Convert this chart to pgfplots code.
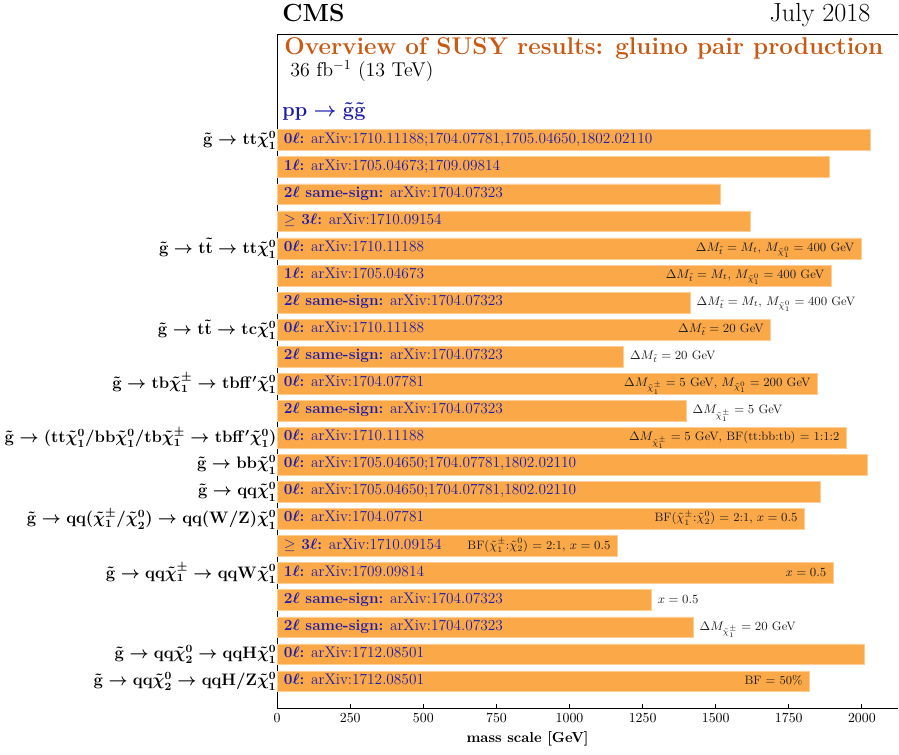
\documentclass[border=0pt]{standalone}
\usepackage{amsmath,amssymb}
\usepackage{pgfplots}
\pgfplotsset{compat=1.18}
\usepackage{pgfplotstable}
\definecolor{barorange}{RGB}{251,168,72}
\definecolor{baredge}{RGB}{253,205,150}
\definecolor{labblue}{RGB}{28,28,170}
\definecolor{titleorange}{RGB}{200,90,20}
\definecolor{anntext}{RGB}{30,30,30}
\pgfplotstableread{
y x
21 2030
20 1888
19 1517
18 1619
17 1997
16 1894
15 1412
14 1687
13 1184
12 1847
11 1398
10 1946
9 2020
8 1857
7 1803
6 1163
5 1901
4 1279
3 1422
2 2007
1 1820
}\bars
\newcommand{\bl}[3]{\node[anchor=mid west,inner sep=0,text=labblue,font=\fontsize{11.1}{13}\selectfont] at (axis cs:22,#1) {{\bfseries\boldmath #2} #3};}
\newcommand{\ain}[3]{\node[anchor=mid east,inner sep=0,text=anntext,font=\fontsize{8.8}{10}\selectfont] at (axis cs:#1,#2) {#3};}
\newcommand{\aout}[3]{\node[anchor=mid west,inner sep=0,text=anntext,font=\fontsize{8.8}{10}\selectfont] at (axis cs:#1,#2) {#3};}
\begin{document}
\begin{tikzpicture}
\begin{axis}[
  scale only axis, width=449pt, height=487pt,
  xmin=0, xmax=2125, ymin=0, ymax=24.9,
  axis lines=left, axis line style={-, black, line width=0.8pt},
  xtick={0,250,...,2000},
  /pgf/number format/1000 sep={},
  xticklabel style={font=\fontsize{10.4}{12}\selectfont},
  tick align=inside,
  major tick length=3pt,
  x tick style={black, line width=0.6pt},
  ytick={21,17,14,12,10,9,8,7,5,2,1},
  yticklabels={
    {$\tilde{\mathbf{g}}\rightarrow\mathbf{tt}\tilde{\chi}^0_1$},
    {$\tilde{\mathbf{g}}\rightarrow\mathbf{t}\tilde{\mathbf{t}}\rightarrow\mathbf{tt}\tilde{\chi}^0_1$},
    {$\tilde{\mathbf{g}}\rightarrow\mathbf{t}\tilde{\mathbf{t}}\rightarrow\mathbf{tc}\tilde{\chi}^0_1$},
    {$\tilde{\mathbf{g}}\rightarrow\mathbf{tb}\tilde{\chi}^{\pm}_1\rightarrow\mathbf{tbff'}\tilde{\chi}^0_1$},
    {$\tilde{\mathbf{g}}\rightarrow(\mathbf{tt}\tilde{\chi}^0_1/\mathbf{bb}\tilde{\chi}^0_1/\mathbf{tb}\tilde{\chi}^{\pm}_1\rightarrow\mathbf{tbff'}\tilde{\chi}^0_1)$},
    {$\tilde{\mathbf{g}}\rightarrow\mathbf{bb}\tilde{\chi}^0_1$},
    {$\tilde{\mathbf{g}}\rightarrow\mathbf{qq}\tilde{\chi}^0_1$},
    {$\tilde{\mathbf{g}}\rightarrow\mathbf{qq}(\tilde{\chi}^{\pm}_1/\tilde{\chi}^0_2)\rightarrow\mathbf{qq(W/Z)}\tilde{\chi}^0_1$},
    {$\tilde{\mathbf{g}}\rightarrow\mathbf{qq}\tilde{\chi}^{\pm}_1\rightarrow\mathbf{qqW}\tilde{\chi}^0_1$},
    {$\tilde{\mathbf{g}}\rightarrow\mathbf{qq}\tilde{\chi}^0_2\rightarrow\mathbf{qqH}\tilde{\chi}^0_1$},
    {$\tilde{\mathbf{g}}\rightarrow\mathbf{qq}\tilde{\chi}^0_2\rightarrow\mathbf{qqH/Z}\tilde{\chi}^0_1$}
  },
  y tick style={draw=none},
  yticklabel style={font=\fontsize{11.7}{13}\selectfont\boldmath, xshift=6pt},
  xlabel={\textbf{mass scale [GeV]}},
  xlabel style={at={(ticklabel cs:0.403)}, anchor=north, font=\fontsize{10.5}{12}\selectfont},
  xbar, bar width=0.77,
  clip=false,
]
\addplot[fill=barorange, draw=baredge, line width=0.4pt] table[x=x,y=y] {\bars};
\draw[black, line width=0.8pt] (rel axis cs:0,1) -- (rel axis cs:1,1);
% bounding box helpers
\node[inner sep=0,minimum size=0] at (axis cs:0,24.9) [yshift=25pt] {};
\node[inner sep=0,minimum size=0] at (axis cs:0,0) [yshift=-33pt] {};
\node[inner sep=0,minimum size=0] at (axis cs:0,0) [xshift=-198pt] {};
% titles
\node[anchor=base west,inner sep=0,font=\fontsize{17.9}{20}\selectfont\bfseries] at (axis cs:17,24.9) [yshift=9.4pt] {CMS};
\node[anchor=base east,inner sep=0,font=\fontsize{18.9}{21}\selectfont] at (axis cs:2030,24.9) [yshift=9.4pt] {July 2018};
\node[anchor=base west,inner sep=0,font=\fontsize{17.5}{20}\selectfont\bfseries,text=titleorange] at (axis cs:24,24.15) {Overview of SUSY results: gluino pair production};
\node[anchor=base west,inner sep=0,font=\Large] at (axis cs:44,23.35) {36 fb$^{-1}$ (13 TeV)};
\node[anchor=base west,inner sep=0,font=\fontsize{15}{17}\selectfont\boldmath,text=labblue] at (axis cs:17,21.87) {$\mathbf{pp}\rightarrow\tilde{\mathbf{g}}\tilde{\mathbf{g}}$};
% bar labels
\bl{21}{0$\ell$:}{arXiv:1710.11188;1704.07781,1705.04650,1802.02110}
\bl{20}{1$\ell$:}{arXiv:1705.04673;1709.09814}
\bl{19}{2$\ell$ same-sign:}{arXiv:1704.07323}
\bl{18}{{\unboldmath$\geq$} 3$\ell$:}{arXiv:1710.09154}
\bl{17}{0$\ell$:}{arXiv:1710.11188}
\bl{16}{1$\ell$:}{arXiv:1705.04673}
\bl{15}{2$\ell$ same-sign:}{arXiv:1704.07323}
\bl{14}{0$\ell$:}{arXiv:1710.11188}
\bl{13}{2$\ell$ same-sign:}{arXiv:1704.07323}
\bl{12}{0$\ell$:}{arXiv:1704.07781}
\bl{11}{2$\ell$ same-sign:}{arXiv:1704.07323}
\bl{10}{0$\ell$:}{arXiv:1710.11188}
\bl{9}{0$\ell$:}{arXiv:1705.04650;1704.07781,1802.02110}
\bl{8}{0$\ell$:}{arXiv:1705.04650;1704.07781,1802.02110}
\bl{7}{0$\ell$:}{arXiv:1704.07781}
\bl{6}{{\unboldmath$\geq$} 3$\ell$:}{arXiv:1710.09154}
\bl{5}{1$\ell$:}{arXiv:1709.09814}
\bl{4}{2$\ell$ same-sign:}{arXiv:1704.07323}
\bl{3}{2$\ell$ same-sign:}{arXiv:1704.07323}
\bl{2}{0$\ell$:}{arXiv:1712.08501}
\bl{1}{0$\ell$:}{arXiv:1712.08501}
% annotations
\ain{1975}{17}{$\Delta M_{\tilde{t}} = M_t$, $M_{\tilde{\chi}^0_1} = 400$ GeV}
\ain{1872}{16}{$\Delta M_{\tilde{t}} = M_t$, $M_{\tilde{\chi}^0_1} = 400$ GeV}
\aout{1434}{15}{$\Delta M_{\tilde{t}} = M_t$, $M_{\tilde{\chi}^0_1} = 400$ GeV}
\ain{1665}{14}{$\Delta M_{\tilde{t}} = 20$ GeV}
\aout{1206}{13}{$\Delta M_{\tilde{t}} = 20$ GeV}
\ain{1825}{12}{$\Delta M_{\tilde{\chi}^{\pm}_1} = 5$ GeV, $M_{\tilde{\chi}^0_1} = 200$ GeV}
\aout{1420}{11}{$\Delta M_{\tilde{\chi}^{\pm}_1} = 5$ GeV}
\ain{1924}{10}{$\Delta M_{\tilde{\chi}^{\pm}_1} = 5$ GeV, BF(tt:bb:tb) = 1:1:2}
\ain{1781}{7}{BF($\tilde{\chi}^{\pm}_1$:$\tilde{\chi}^0_2$) = 2:1, $x = 0.5$}
\ain{1141}{6}{BF($\tilde{\chi}^{\pm}_1$:$\tilde{\chi}^0_2$) = 2:1, $x = 0.5$}
\ain{1879}{5}{$x = 0.5$}
\aout{1301}{4}{$x = 0.5$}
\aout{1444}{3}{$\Delta M_{\tilde{\chi}^{\pm}_1} = 20$ GeV}
\ain{1798}{1}{BF = 50\%}
\end{axis}
\end{tikzpicture}
\end{document}
